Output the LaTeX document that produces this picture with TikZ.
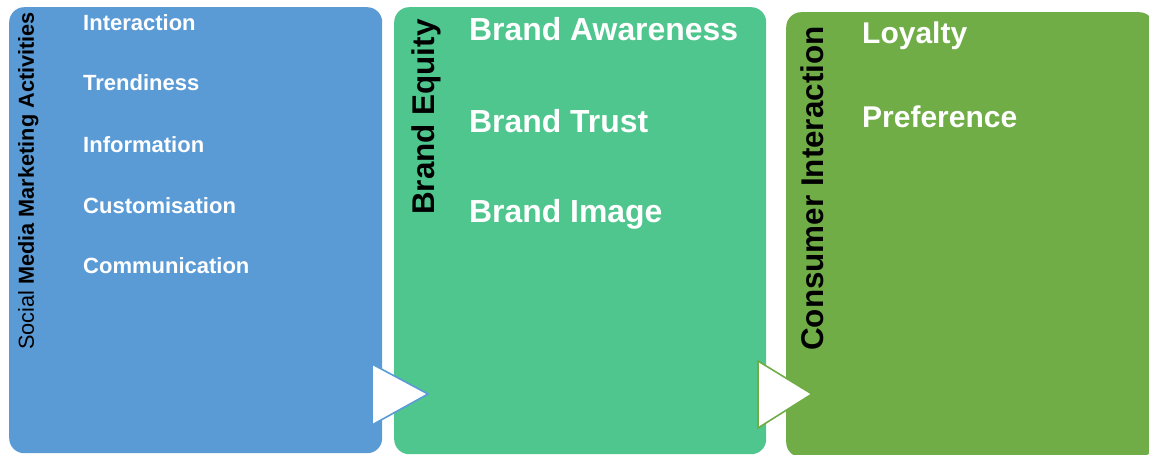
\documentclass[tikz,border=0pt]{standalone}
\usepackage{fontspec}
\setmainfont{Liberation Sans}
\begin{document}
\begin{tikzpicture}[x=1pt,y=-1pt,
  panel/.style={draw=none, rounded corners=15pt, anchor=north west, inner sep=0pt},
  item/.style={anchor=base west, inner sep=0pt, text=white},
  smmitem/.style={item, font=\fontsize{22}{24}\selectfont\bfseries},
  eqitem/.style={item, font=\fontsize{31.9}{34}\selectfont\bfseries},
  ciitem/.style={item, font=\fontsize{30}{32}\selectfont\bfseries},
  heading/.style={anchor=base west, inner sep=0pt, rotate=90, text=black},
  flowtip/.style={fill=white, line width=1.6pt, line join=miter}
]
\definecolor{smmblue}{HTML}{5B9BD5}
\definecolor{eqgreen}{HTML}{4FC68E}
\definecolor{cigreen}{HTML}{70AD47}
\useasboundingbox (0,0) rectangle (1149,455);

% three stage panels
\node[panel, fill=smmblue, minimum width=373pt, minimum height=446pt] (smm) at (9,7) {};
\node[panel, fill=eqgreen, minimum width=372pt, minimum height=447pt] (eq) at (394,7) {};
\node[panel, fill=cigreen, minimum width=368pt, minimum height=445pt] (ci) at (786,12) {};

% stage arrows between panels
\draw[flowtip, draw=smmblue] (372,364) -- (372,425) -- (428,394) -- cycle;
\draw[flowtip, draw=cigreen] (758,361) -- (758,428) -- (812,394) -- cycle;

% panel headings, written upwards
\node[heading, font=\fontsize{21.7}{24}\selectfont] (smmhead) at (34,350)
  {Social \textbf{Media Marketing Activities}};
\node[heading, font=\fontsize{31.4}{34}\selectfont\bfseries] (eqhead) at (434,215) {Brand Equity};
\node[heading, font=\fontsize{31.4}{34}\selectfont\bfseries] (cihead) at (823,351) {Consumer Interaction};

% social media marketing items
\node[smmitem] (i1) at (83,30) {Interaction};
\node[smmitem] (i2) at (83,90.5) {Trendiness};
\node[smmitem] (i3) at (83,152) {Information};
\node[smmitem] (i4) at (83,213) {Customisation};
\node[smmitem] (i5) at (83,273) {Communication};

% brand equity items
\node[eqitem] (b1) at (469,40) {Brand Awareness};
\node[eqitem] (b2) at (469,132) {Brand Trust};
\node[eqitem] (b3) at (469,222) {Brand Image};

% consumer interaction items
\node[ciitem] (c1) at (862,43) {Loyalty};
\node[ciitem] (c2) at (862,127) {Preference};
\end{tikzpicture}
\end{document}
